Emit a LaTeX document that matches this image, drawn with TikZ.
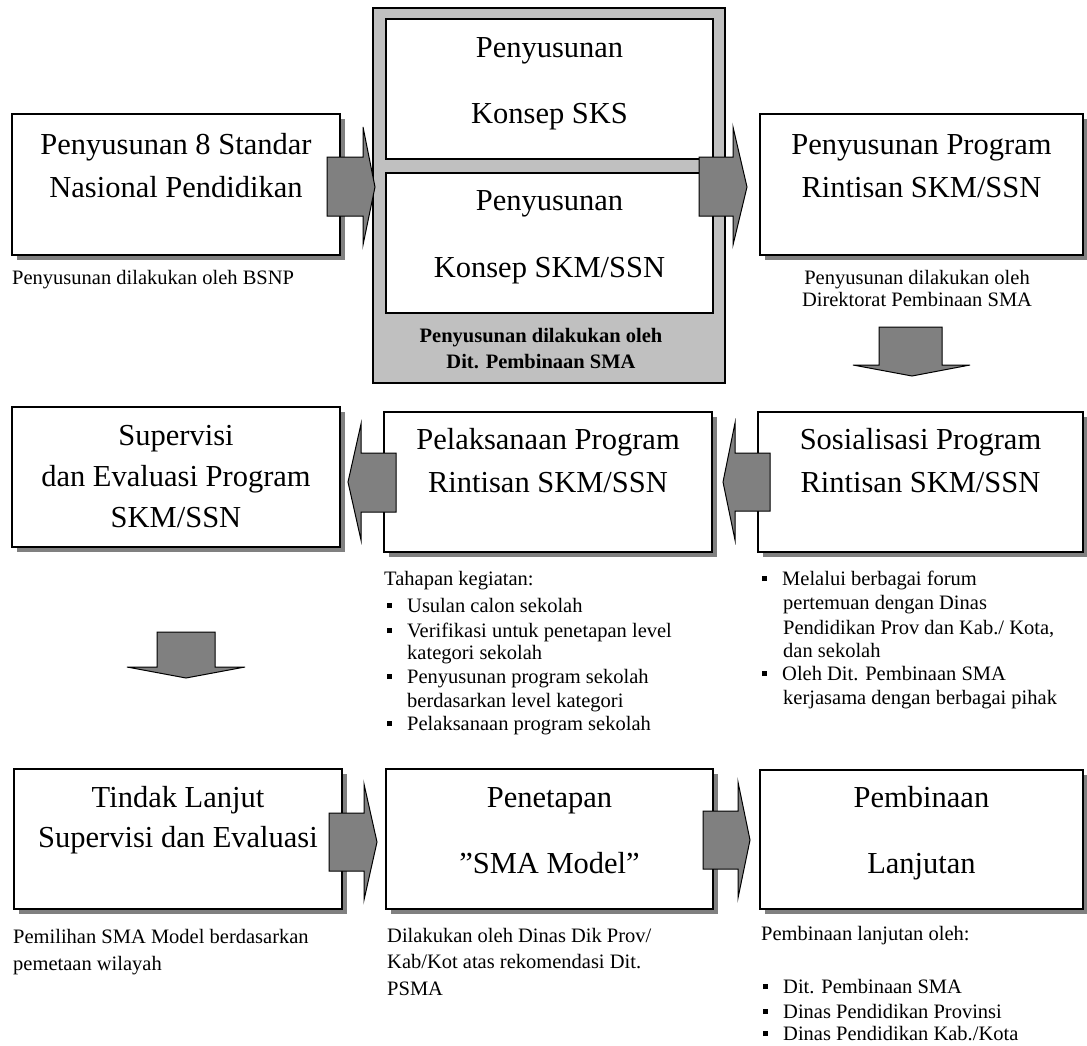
\documentclass[tikz,border=0pt]{standalone}
\usepackage{fontspec}
\setmainfont{Liberation Serif}
\usetikzlibrary{shadows}
\definecolor{shd}{HTML}{808080}
\definecolor{contc}{HTML}{C0C0C0}
\definecolor{arrc}{HTML}{808080}
\newcommand{\mybul}{\rule[4pt]{5pt}{5pt}\hspace{15pt}}
\begin{document}
\begin{tikzpicture}[x=1pt,y=-1pt,
 box/.style={draw=black, line width=1.5pt, fill=white, rectangle, inner sep=0pt},
 sbox/.style={box, drop shadow={shadow xshift=5pt, shadow yshift=-5pt, fill=shd, opacity=1}},
 big/.style={font=\fontsize{30.5}{36}\selectfont, anchor=base, inner sep=0pt},
 captxt/.style={font=\fontsize{20.5}{24}\selectfont, anchor=base west, inner sep=0pt},
 capc/.style={font=\fontsize{20.5}{24}\selectfont, anchor=base, inner sep=0pt},
 bcap/.style={font=\fontsize{20.5}{24}\selectfont\bfseries, anchor=base, inner sep=0pt},
 barrow/.style={draw=black, line width=1pt, fill=arrc, line join=miter}]

\useasboundingbox (0,0) rectangle (1087,1045);

% ---------- row 1 ----------
\node[sbox, minimum width=328pt, minimum height=141pt] (b1) at (176,184.5) {};
\node[big] (b1a) at (176,154) {Penyusunan 8 Standar};
\node[big] (b1b) at (176,197) {Nasional Pendidikan};
\node[captxt] (c1) at (12,284) {Penyusunan dilakukan oleh BSNP};

\node[box, fill=contc, minimum width=352pt, minimum height=375pt] (cont) at (549,195.5) {};
\node[box, minimum width=327pt, minimum height=140pt] (in1) at (549.5,89) {};
\node[box, minimum width=327pt, minimum height=140pt] (in2) at (549.5,243) {};
\node[big] (in1a) at (549.5,57) {Penyusunan};
\node[big] (in1b) at (549.5,123) {Konsep SKS};
\node[big] (in2a) at (549.5,210) {Penyusunan};
\node[big] (in2b) at (549.5,277) {Konsep SKM/SSN};
\node[bcap] (cc1) at (541,342) {Penyusunan dilakukan oleh};
\node[bcap] (cc2) at (541,368) {Dit. Pembinaan SMA};

\node[sbox, minimum width=323pt, minimum height=141pt] (b3) at (921.5,184.5) {};
\node[big] (b3a) at (921.5,154) {Penyusunan Program};
\node[big] (b3b) at (921.5,197) {Rintisan SKM/SSN};
\node[capc] (c3a) at (917,284) {Penyusunan dilakukan oleh};
\node[capc] (c3b) at (917,306) {Direktorat Pembinaan SMA};

% ---------- row 2 ----------
\node[sbox, minimum width=328pt, minimum height=140pt] (b4) at (176,477) {};
\node[big] (b4a) at (176,445) {Supervisi};
\node[big] (b4b) at (176,486) {dan Evaluasi Program};
\node[big] (b4c) at (176,527) {SKM/SSN};

\node[sbox, minimum width=328pt, minimum height=140pt] (b5) at (548,482) {};
\node[big] (b5a) at (548,449) {Pelaksanaan Program};
\node[big] (b5b) at (548,492) {Rintisan SKM/SSN};

\node[sbox, minimum width=325pt, minimum height=140pt] (b6) at (920.5,482) {};
\node[big] (b6a) at (920.5,449) {Sosialisasi Program};
\node[big] (b6b) at (920.5,492) {Rintisan SKM/SSN};

\node[captxt] (c5) at (384,585) {Tahapan kegiatan:};
\node[captxt] (c5a) at (387,612) {\mybul Usulan calon sekolah};
\node[captxt] (c5b) at (387,637) {\mybul Verifikasi untuk penetapan level};
\node[captxt] (c5c) at (407,659) {kategori sekolah};
\node[captxt] (c5d) at (387,683) {\mybul Penyusunan program sekolah};
\node[captxt] (c5e) at (407,707) {berdasarkan level kategori};
\node[captxt] (c5f) at (387,730) {\mybul Pelaksanaan program sekolah};

\node[captxt] (c6a) at (762,585) {\mybul Melalui berbagai forum};
\node[captxt] (c6b) at (783,609) {pertemuan dengan Dinas};
\node[captxt] (c6c) at (783,634) {Pendidikan Prov dan Kab./ Kota,};
\node[captxt] (c6d) at (783,657) {dan sekolah};
\node[captxt] (c6e) at (762,680) {\mybul Oleh Dit. Pembinaan SMA};
\node[captxt] (c6f) at (783,704) {kerjasama dengan berbagai pihak};

% ---------- row 3 ----------
\node[sbox, minimum width=328pt, minimum height=140pt] (b7) at (178,839) {};
\node[big] (b7a) at (178,807) {Tindak Lanjut};
\node[big] (b7b) at (178,847) {Supervisi dan Evaluasi};

\node[sbox, minimum width=327pt, minimum height=140pt] (b8) at (549.5,839) {};
\node[big] (b8a) at (549.5,807) {Penetapan};
\node[big] (b8b) at (549.5,873) {”SMA Model”};

\node[sbox, minimum width=323pt, minimum height=139pt] (b9) at (921.5,839.5) {};
\node[big] (b9a) at (921.5,807) {Pembinaan};
\node[big] (b9b) at (921.5,873) {Lanjutan};

\node[captxt] (c7a) at (13,943) {Pemilihan SMA Model berdasarkan};
\node[captxt] (c7b) at (13,970) {pemetaan wilayah};
\node[captxt] (c8a) at (387,942) {Dilakukan oleh Dinas Dik Prov/};
\node[captxt] (c8b) at (387,968) {Kab/Kot atas rekomendasi Dit.};
\node[captxt] (c8c) at (387,995) {PSMA};
\node[captxt] (c9) at (761,940) {Pembinaan lanjutan oleh:};
\node[captxt] (c9a) at (763,993) {\mybul Dit. Pembinaan SMA};
\node[captxt] (c9b) at (763,1018) {\mybul Dinas Pendidikan Provinsi};
\node[captxt] (c9c) at (763,1040) {\mybul Dinas Pendidikan Kab./Kota};

% ---------- block arrows ----------
% b1 -> container
\draw[barrow] (327,157) -- (363,157) -- (363,127) -- (375,187) -- (363,245) -- (363,216) -- (327,216) -- cycle;
% container -> b3
\draw[barrow] (699,157) -- (733,157) -- (733,127) -- (747,187) -- (733,245) -- (733,216) -- (699,216) -- cycle;
% b3 -> b6 (down)
\draw[barrow] (879,327) -- (942,327) -- (942,365) -- (970,365) -- (912,376) -- (853,365) -- (879,365) -- cycle;
% b6 -> b5 (left)
\draw[barrow] (770,453) -- (735,453) -- (735,423) -- (723,482) -- (735,540) -- (735,511) -- (770,511) -- cycle;
% b5 -> b4 (left)
\draw[barrow] (396,453) -- (361,453) -- (361,424) -- (348,482) -- (361,540) -- (361,512) -- (396,512) -- cycle;
% b4 -> b7 (down)
\draw[barrow] (157,632) -- (215,632) -- (215,667) -- (245,667) -- (186,678) -- (127,667) -- (157,667) -- cycle;
% b7 -> b8
\draw[barrow] (329,813) -- (364,813) -- (364,784) -- (377,842) -- (364,900) -- (364,871) -- (329,871) -- cycle;
% b8 -> b9
\draw[barrow] (703,811) -- (738,811) -- (738,782) -- (750,840) -- (738,898) -- (738,869) -- (703,869) -- cycle;
\end{tikzpicture}
\end{document}
